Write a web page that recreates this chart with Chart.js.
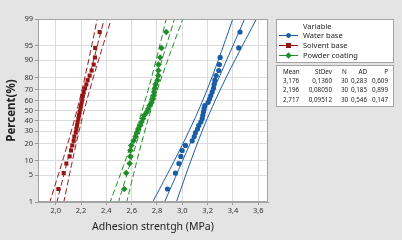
<!DOCTYPE html>
<html>
<head>
<meta charset="utf-8">
<script src="https://cdn.jsdelivr.net/npm/chart.js@4.4.1/dist/chart.umd.min.js"></script>
<style>
html, body { margin: 0; padding: 0; background: #e4e4e4; }
canvas { display: block; }
</style>
</head>
<body>
<canvas id="grafico" width="402" height="240"></canvas>
<script>
// plotting positions (median ranks, %) for the 30 ordered values
const percents = [2.30, 5.59, 8.88, 12.17, 15.46, 18.75, 22.04, 25.33, 28.62, 31.91,
    35.20, 38.49, 41.78, 45.07, 48.36, 51.64, 54.93, 58.22, 61.51, 64.80,
    68.09, 71.38, 74.67, 77.96, 81.25, 84.54, 87.83, 91.12, 94.41, 97.70]

const waterBase = [2.883, 2.946, 2.973, 2.988, 2.999, 3.025, 3.078, 3.094, 3.104, 3.120,
    3.130, 3.146, 3.157, 3.162, 3.167, 3.172, 3.178, 3.204, 3.215, 3.225,
    3.236, 3.246, 3.251, 3.257, 3.267, 3.288, 3.293, 3.299, 3.446, 3.456]
const solventBase = [2.021, 2.063, 2.084, 2.110, 2.121, 2.131, 2.142, 2.147, 2.158, 2.163,
    2.168, 2.173, 2.179, 2.184, 2.189, 2.195, 2.200, 2.205, 2.210, 2.212,
    2.221, 2.231, 2.242, 2.252, 2.268, 2.284, 2.300, 2.310, 2.312, 2.347]
const powderCoating = [2.542, 2.557, 2.584, 2.589, 2.590, 2.597, 2.615, 2.631, 2.641, 2.652,
    2.668, 2.678, 2.689, 2.699, 2.720, 2.731, 2.741, 2.757, 2.768, 2.773,
    2.778, 2.783, 2.789, 2.804, 2.810, 2.811, 2.812, 2.825, 2.836, 2.873]

const nomes = ['Water base', 'Solvent base', 'Powder coating']
const medias = [3.176, 2.196, 2.717]
const desvios = [0.1360, 0.08050, 0.09512]
const tamanhos = [30, 30, 30]
const valoresAD = [0.283, 0.185, 0.546]
const valoresP = [0.609, 0.899, 0.147]

const xTicks = [2.0, 2.2, 2.4, 2.6, 2.8, 3.0, 3.2, 3.4, 3.6]
const yTicks = [1, 5, 10, 20, 30, 40, 50, 60, 70, 80, 90, 95, 99]

const cores = ['#1b5ca7', '#981515', '#1f8d28']
const marcadores = ['circle', 'rect', 'rectRot']
const tracos = [[], [6, 3], [6, 3]]
const fonte = '"Noto Sans", "Open Sans", sans-serif'

// inverse normal cdf (Acklam)
function probit(p) {
    const a = [-39.69683028665376, 220.9460984245205, -275.9285104469687, 138.3577518672690, -30.66479806614716, 2.506628277459239]
    const b = [-54.47609879822406, 161.5858368580409, -155.6989798598866, 66.80131188771972, -13.28068155288572]
    const c = [-0.007784894002430293, -0.3223964580411365, -2.400758277161838, -2.549732539343734, 4.374664141464968, 2.938163982698783]
    const d = [0.007784695709041462, 0.3224671290700398, 2.445134137142996, 3.754408661907416]
    const pl = 0.02425
    let q, r
    if (p < pl) {
        q = Math.sqrt(-2 * Math.log(p))
        return (((((c[0]*q+c[1])*q+c[2])*q+c[3])*q+c[4])*q+c[5]) / ((((d[0]*q+d[1])*q+d[2])*q+d[3])*q+1)
    }
    if (p > 1 - pl) {
        q = Math.sqrt(-2 * Math.log(1 - p))
        return -(((((c[0]*q+c[1])*q+c[2])*q+c[3])*q+c[4])*q+c[5]) / ((((d[0]*q+d[1])*q+d[2])*q+d[3])*q+1)
    }
    q = p - 0.5
    r = q * q
    return (((((a[0]*r+a[1])*r+a[2])*r+a[3])*r+a[4])*r+a[5])*q / (((((b[0]*r+b[1])*r+b[2])*r+b[3])*r+b[4])*r+1)
}

const virgula = (v, casas) => v.toFixed(casas).replace('.', ',')

const series = [waterBase, solventBase, powderCoating]
const datasets = []

series.forEach((valores, i) => {
    const m = medias[i], s = desvios[i], n = tamanhos[i]
    datasets.push({
        label: nomes[i],
        data: valores.map((v, k) => ({ x: v, y: probit(percents[k] / 100) })),
        pointStyle: marcadores[i],
        pointRadius: marcadores[i] === 'circle' ? 2.6 : (marcadores[i] === 'rect' ? 2.9 : 3.3),
        backgroundColor: cores[i],
        borderColor: cores[i],
        borderWidth: 0,
        showLine: false,
        order: 0
    })
    // fitted line and 95% CI for percentiles
    const fit = [], inf = [], sup = []
    for (let z = -2.8; z <= 2.81; z += 0.1) {
        const xp = m + z * s
        const h = 1.96 * s * Math.sqrt((1 + z * z / 2) / n)
        fit.push({ x: xp, y: z })
        inf.push({ x: xp - h, y: z })
        sup.push({ x: xp + h, y: z })
    }
    ;[fit, inf, sup].forEach(d => datasets.push({
        data: d,
        showLine: true,
        pointRadius: 0,
        borderColor: cores[i],
        borderWidth: 1,
        borderDash: tracos[i],
        order: 1
    }))
})

// text squeezed horizontally, like the reference table
function textoEstreito(ctx, txt, x, y, alinhamento) {
    ctx.save()
    ctx.translate(x, y)
    ctx.scale(0.84, 1)
    ctx.textAlign = alinhamento
    ctx.fillText(txt, 0, 0)
    ctx.restore()
}

const fundo = {
    id: 'fundo',
    beforeDraw(chart) {
        const { ctx, chartArea: a } = chart
        ctx.save()
        ctx.fillStyle = '#e4e4e4'
        ctx.fillRect(0, 0, chart.width, chart.height)
        ctx.fillStyle = '#ffffff'
        ctx.fillRect(a.left, a.top, a.right - a.left, a.bottom - a.top)
        ctx.restore()
    },
    afterDraw(chart) {
        const { ctx, chartArea: a } = chart
        ctx.save()
        ctx.strokeStyle = '#a3a3a3'
        ctx.lineWidth = 1
        ctx.strokeRect(a.left + 0.5, a.top + 0.5, a.right - a.left - 1, a.bottom - a.top - 1)

        // legend box
        ctx.fillStyle = '#ffffff'
        ctx.fillRect(276.5, 19.5, 117, 43)
        ctx.strokeRect(276.5, 19.5, 117, 43)
        ctx.fillRect(276.5, 65.5, 117, 41)
        ctx.strokeRect(276.5, 65.5, 117, 41)

        ctx.font = '7.5px ' + fonte
        ctx.textBaseline = 'middle'
        ctx.fillStyle = '#222'
        ctx.textAlign = 'left'
        ctx.fillText('Variable', 303, 26.5)
        nomes.forEach((nome, i) => {
            const y = 35.5 + i * 10
            ctx.strokeStyle = cores[i]
            ctx.beginPath()
            ctx.moveTo(279, y)
            ctx.lineTo(298, y)
            ctx.stroke()
            ctx.fillStyle = cores[i]
            ctx.beginPath()
            if (marcadores[i] === 'circle') {
                ctx.arc(288.5, y, 2.4, 0, Math.PI * 2)
            } else if (marcadores[i] === 'rect') {
                ctx.rect(286, y - 2.5, 5, 5)
            } else {
                ctx.moveTo(288.5, y - 3.2); ctx.lineTo(291.7, y); ctx.lineTo(288.5, y + 3.2); ctx.lineTo(285.3, y)
            }
            ctx.fill()
            ctx.fillStyle = '#222'
            ctx.fillText(nome, 303, y)
        })

        // stats table
        const linhas = [['Mean', 'StDev', 'N', 'AD', 'P']]
        nomes.forEach((_, i) => linhas.push([
            virgula(medias[i], 3),
            desvios[i].toPrecision(4).replace('.', ','),
            String(tamanhos[i]),
            virgula(valoresAD[i], 3),
            virgula(valoresP[i], 3)
        ]))
        const colX = [283, 332, 344.5, 367, 388]
        const colAlign = ['left', 'right', 'center', 'right', 'right']
        const linY = [71.5, 80.5, 90, 99.5]
        linhas.forEach((linha, r) => {
            linha.forEach((txt, c) => textoEstreito(ctx, txt, colX[c], linY[r], colAlign[c]))
        })
        ctx.restore()
    }
}

new Chart(document.getElementById('grafico'), {
    type: 'scatter',
    data: { datasets: datasets },
    options: {
        responsive: false,
        animation: false,
        events: [],
        layout: { padding: { left: 0, top: 19, right: 134, bottom: 0 } },
        plugins: { legend: { display: false }, tooltip: { enabled: false } },
        scales: {
            x: {
                type: 'linear',
                min: 1.86,
                max: 3.677,
                afterBuildTicks: axis => { axis.ticks = xTicks.map(v => ({ value: v })) },
                afterFit: axis => { axis.height = 38 },
                ticks: {
                    autoSkip: false,
                    maxRotation: 0,
                    padding: 1,
                    color: '#333',
                    font: { family: fonte, size: 7.5 },
                    callback: v => virgula(v, 1)
                },
                grid: { color: '#dcdcdc', borderDash: [9, 4], tickLength: 3, tickColor: '#999', tickBorderDash: [] },
                border: { color: '#a3a3a3' },
                title: {
                    display: true,
                    text: 'Adhesion strentgh (MPa)',
                    color: '#222',
                    font: { family: fonte, size: 10.5 },
                    padding: { top: 0, bottom: 7 }
                }
            },
            y: {
                type: 'linear',
                min: probit(0.01),
                max: probit(0.99),
                afterBuildTicks: axis => { axis.ticks = yTicks.map(p => ({ value: probit(p / 100) })) },
                afterFit: axis => { axis.width = 38 },
                ticks: {
                    autoSkip: false,
                    padding: 2,
                    color: '#333',
                    font: { family: fonte, size: 7.5 },
                    callback: (v, i) => String(yTicks[i])
                },
                grid: { color: '#dcdcdc', borderDash: [9, 4], tickLength: 3, tickColor: '#999', tickBorderDash: [] },
                border: { color: '#a3a3a3' },
                title: {
                    display: true,
                    text: 'Percent(%)',
                    color: '#222',
                    font: { family: fonte, size: 11.5, weight: 'bold' },
                    padding: { top: 5, bottom: 0 }
                }
            }
        }
    },
    plugins: [fundo]
})
</script>
</body>
</html>
